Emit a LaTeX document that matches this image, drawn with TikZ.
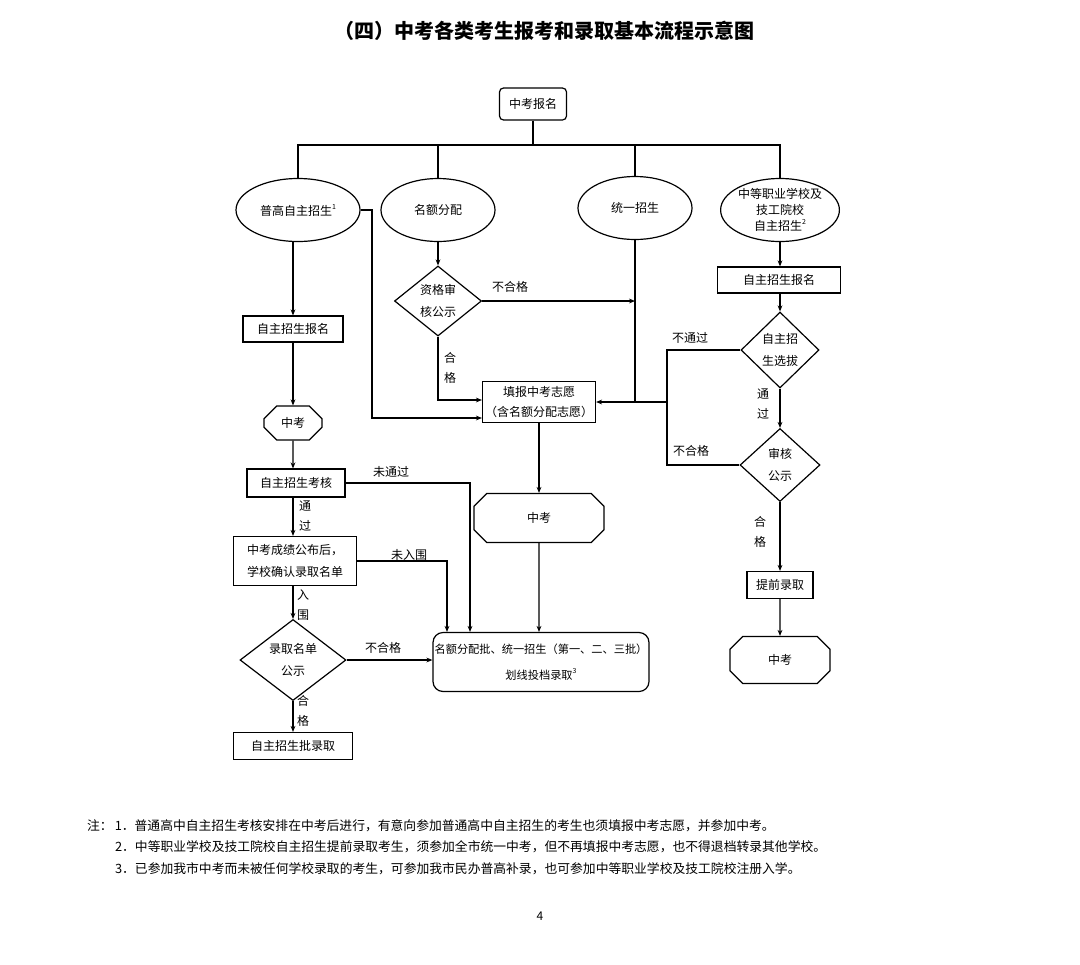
\documentclass[tikz,border=0pt]{standalone}
\usepackage{fontspec}
\setmainfont{Noto Sans CJK SC}
\usetikzlibrary{arrows.meta,positioning,shapes.geometric,shapes.misc}

\newcommand{\fn}[1]{\raisebox{3pt}{\fontsize{3.5}{4}\selectfont #1}}
\tikzset{
  every node/.style={font=\fontsize{6}{8}\selectfont},
  box/.style={draw,semithick,inner sep=0pt,align=center},
  oval/.style={draw,semithick,ellipse,inner sep=0pt,align=center},
  dia/.style={draw,semithick,diamond,inner sep=0pt,align=center},
  oct/.style={draw,semithick,chamfered rectangle,chamfered rectangle xsep=5pt,inner sep=0pt},
  vlab/.style={align=center,font=\fontsize{6}{10}\selectfont},
  line/.style={semithick},
  arr/.style={semithick,-{Stealth[length=3pt,width=2.4pt]}},
}

\begin{document}
\begin{tikzpicture}[x=0.5pt,y=-0.5pt]
\useasboundingbox (0,0) rectangle (1080,964);
\node[font=\bfseries\fontsize{10}{12}\selectfont] (title) at (544,31) {（四）中考各类考生报考和录取基本流程示意图};

% top
\node[box,rounded corners=2pt,minimum width=33.5pt,minimum height=16pt] (reg) at (533,104) {中考报名};
\coordinate (bus) at (533,145);
\node[oval,minimum width=62pt,minimum height=31.5pt] (zz) at (298,210) {普高自主招生\fn{1}};
\node[oval,minimum width=57pt,minimum height=31.5pt] (me) at (438,210) {名额分配};
\node[oval,minimum width=57pt,minimum height=31.5pt] (ty) at (635,208) {统一招生};
\node[oval,minimum width=58pt,minimum height=31.5pt] (zy) at (780,210) {中等职业学校及\\技工院校\\自主招生\fn{2}};
\draw[line] (reg) -- (bus);
\draw[line] (zz.north) -- (zz.north|-bus) -- (zy.north|-bus) -- (zy.north);
\draw[line] (me.north|-bus) -- (me.north);
\draw[line] (ty.north|-bus) -- (ty.north);

% middle column
\node[dia,minimum width=43.5pt,minimum height=35pt] (zg) at (438,301) {资格审\\[3pt]核公示};
\node[box,minimum width=56.5pt,minimum height=20.5pt] (tb) at (539,402) {填报中考志愿\\[2pt]（含名额分配志愿）};
\node[oct,minimum width=65pt,minimum height=24.5pt] (zk2) at (539,518) {中考};
\node[box,rounded corners=5pt,minimum width=108pt,minimum height=29.5pt,font=\fontsize{5.6}{7}\selectfont] (pl) at (541,662) {名额分配批、统一招生（第一、二、三批）\\[6pt]划线投档录取\fn{3}};
\draw[arr] (me) -- (zg);
\draw[arr] (zg.east) -- (ty.south|-zg.east);
\node (bhg1) at (510,287) {不合格};
\draw[arr] (zg.south) |- (tb.west|-0,400);
\node[vlab] (hg1) at (450,368) {合\\格};
\draw[arr] (zz.east) -| (372,418) -- (tb.west|-0,418);
\draw[line] (ty.south) -- (ty.south|-tb.east);
\draw[arr] (tb) -- (zk2);
\draw[arr] (zk2) -- (pl.north-|zk2);

% left column
\node[box,minimum width=50pt,minimum height=13pt] (zbm1) at (293,329) {自主招生报名};
\node[oct,minimum width=29pt,minimum height=17pt,chamfered rectangle xsep=3pt] (zk1) at (293,423) {中考};
\node[box,minimum width=49pt,minimum height=14pt] (kh) at (296,483) {自主招生考核};
\node[box,minimum width=61.5pt,minimum height=24.5pt,align=left] (cj) at (295,561) {中考成绩公布后，\\[3pt]学校确认录取名单};
\node[dia,minimum width=53pt,minimum height=34.5pt] (gs) at (293,660) {录取名单\\[3pt]公示};
\node[box,minimum width=59.5pt,minimum height=13.5pt] (lq1) at (293,746) {自主招生批录取};
\draw[arr] (zz.south-|zbm1) -- (zbm1);
\draw[arr] (zbm1) -- (zk1);
\draw[arr] (zk1) -- (kh.north-|zk1);
\draw[arr] (kh.south-|zk1) -- (cj.north-|zk1);
\node[vlab] (tg1) at (305,516) {通\\过};
\draw[arr] (cj.south-|zk1) -- (gs.north-|zk1);
\node[vlab] (rw) at (303,605) {入\\围};
\draw[arr] (gs) -- (lq1.north-|gs);
\node[vlab] (hg2) at (303,711) {合\\格};
\draw[arr] (kh.east) -| (pl.north-|470,0);
\node (wtg) at (391,472) {未通过};
\draw[arr] (cj.east) -| (pl.north-|447,0);
\node (wrw) at (409,555) {未入围};
\draw[arr] (gs.east) -- (pl.west|-gs.east);
\node (bhg2) at (383,648) {不合格};

% right column
\node[box,minimum width=61.5pt,minimum height=13pt] (zbm2) at (779,280) {自主招生报名};
\node[dia,minimum width=39pt,minimum height=38pt] (xb) at (780,350) {自主招\\[3pt]生选拔};
\node[dia,minimum width=40pt,minimum height=36.5pt] (sh) at (780,465) {审核\\[3pt]公示};
\node[box,minimum width=33pt,minimum height=13.5pt] (tq) at (780,585) {提前录取};
\node[oct,minimum width=50pt,minimum height=23.5pt] (zk3) at (780,660) {中考};
\draw[arr] (zy) -- (zbm2.north-|zy);
\draw[arr] (zbm2.south-|xb) -- (xb);
\draw[arr] (xb) -- (sh);
\node[vlab] (tg2) at (763,404) {通\\过};
\draw[arr] (sh) -- (tq);
\node[vlab] (hg3) at (760,532) {合\\格};
\draw[arr] (tq) -- (zk3);
\coordinate (jn) at (667,402);
\draw[line] (xb.west) -| (jn) |- (sh.west);
\node (btg) at (690,338) {不通过};
\node (bhg3) at (691,451) {不合格};
\draw[arr] (jn) -- (tb.east);

% notes
\node[anchor=west,align=left,font=\fontsize{6.4}{10.8}\selectfont] (nt) at (80,847) {注：\,1．普通高中自主招生考核安排在中考后进行，有意向参加普通高中自主招生的考生也须填报中考志愿，并参加中考。\\
\hspace{14pt}2．中等职业学校及技工院校自主招生提前录取考生，须参加全市统一中考，但不再填报中考志愿，也不得退档转录其他学校。\\
\hspace{14pt}3．已参加我市中考而未被任何学校录取的考生，可参加我市民办普高补录，也可参加中等职业学校及技工院校注册入学。};
\node (pg) at (540,916) {4};
\end{tikzpicture}
\end{document}
